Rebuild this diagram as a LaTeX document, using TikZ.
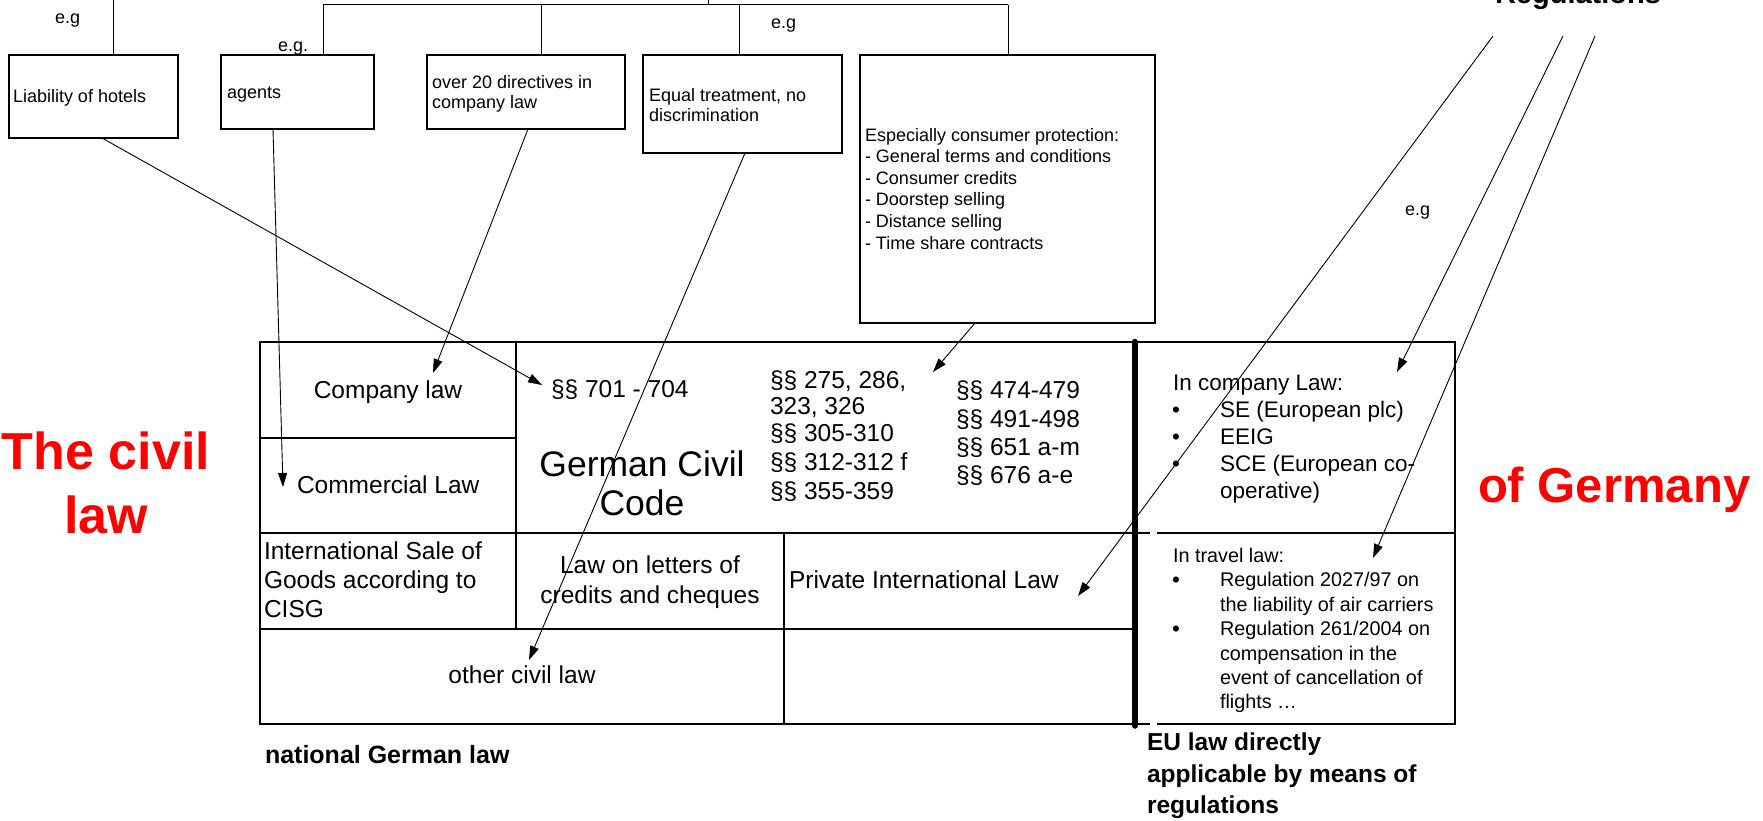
\documentclass[tikz,border=0pt]{standalone}
\usepackage{fontspec}
\setmainfont{Liberation Sans}
\usetikzlibrary{arrows.meta,calc}
\definecolor{redtxt}{RGB}{255,0,0}
\newcommand\ftop{\fontsize{18}{21.6}\selectfont}
\newcommand\ftab{\fontsize{24.5}{29}\selectfont}
\newcommand\fgcc{\fontsize{35.5}{39}\selectfont}
\newcommand\feua{\fontsize{22.5}{27}\selectfont}
\newcommand\feub{\fontsize{19.8}{24.5}\selectfont}
\newcommand\fred{\fontsize{52}{64}\selectfont\bfseries}
\begin{document}
\begin{tikzpicture}[x=1pt,y=-1pt,
  box/.style={draw, line width=1.2pt, inner sep=0pt, outer sep=0pt, anchor=north west},
  cell/.style={draw, line width=2.2pt, inner sep=0pt, outer sep=0pt, anchor=north west},
  ghost/.style={inner sep=0pt, outer sep=0pt, anchor=north west},
  tw/.style={inner sep=0pt, outer sep=0pt, anchor=base west},
  tc/.style={inner sep=0pt, outer sep=0pt, anchor=base},
  conn/.style={line width=1pt},
  arr/.style={line width=0.9pt, -{Triangle[length=14pt,width=9pt]}},
  tline/.style={line width=2.2pt},
]
\useasboundingbox (0,0) rectangle (1763,820);

% ---------- top boxes ----------
\node[box, minimum width=169pt, minimum height=83pt] (liab) at (9,55) {};
\node[box, minimum width=153pt, minimum height=74pt] (agents) at (221,55) {};
\node[box, minimum width=198pt, minimum height=74pt] (dirs) at (427,55) {};
\node[box, minimum width=199pt, minimum height=98pt] (equal) at (643,55) {};
\node[box, minimum width=295pt, minimum height=268pt] (cons) at (860,55) {};

\node[tw] (liabT) at (13,102) {\ftop Liability of hotels};
\node[tw] (agentsT) at (227,98) {\ftop agents};
\node[tw] (dirsA) at (432,88) {\ftop over 20 directives in};
\node[tw] (dirsB) at (432,108) {\ftop company law};
\node[tw] (equalA) at (649,101) {\ftop Equal treatment, no};
\node[tw] (equalB) at (649,121) {\ftop discrimination};
\node[tw] (consA) at (865,141) {\ftop Especially consumer protection:};
\node[tw] (consB) at (865,162.6) {\ftop - General terms and conditions};
\node[tw] (consC) at (865,184.2) {\ftop - Consumer credits};
\node[tw] (consD) at (865,205.8) {\ftop - Doorstep selling};
\node[tw] (consE) at (865,227.4) {\ftop - Distance selling};
\node[tw] (consF) at (865,249) {\ftop - Time share contracts};

\node[tw] (eg1) at (55,23) {\ftop e.g};
\node[tw] (eg2) at (278,51) {\ftop e.g.};
\node[tw] (eg3) at (771,28) {\ftop e.g};
\node[tw] (eg4) at (1405,215) {\ftop e.g};

% ---------- tree lines ----------
\coordinate (lt) at (113,0);
\coordinate (top) at (708,0);
\coordinate (hl) at (323,4.5);
\coordinate (j2) at (541,4.5);
\coordinate (j3) at (739,4.5);
\coordinate (hr) at (1008,4.5);
\draw[conn] (lt) -- (lt |- liab.north);
\draw[conn] (hl) -- (hr);
\draw[conn] (top) -- (top |- hl);
\draw[conn] (hl) -- (hl |- agents.north);
\draw[conn] (j2) -- (j2 |- dirs.north);
\draw[conn] (j3) -- (j3 |- equal.north);
\draw[conn] (hr) -- (hr |- cons.north);

% ---------- table ----------
\node[cell, minimum width=256pt, minimum height=96pt] (company) at (260,342) {};
\node[cell, minimum width=256pt, minimum height=95pt] (commercial) at (260,438) {};
\node[cell, minimum width=619pt, minimum height=191pt] (bgb) at (516,342) {};
\node[cell, minimum width=256pt, minimum height=96pt] (cisg) at (260,533) {};
\node[cell, minimum width=268pt, minimum height=96pt] (letters) at (516,533) {};
\node[cell, minimum width=351pt, minimum height=96pt] (pil) at (784,533) {};
\node[cell, minimum width=524pt, minimum height=95pt] (other) at (260,629) {};
\node[cell, minimum width=351pt, minimum height=95pt] (empty) at (784,629) {};
\node[ghost, minimum width=320pt, minimum height=191pt] (eutop) at (1135,342) {};
\node[ghost, minimum width=320pt, minimum height=191pt] (eubot) at (1135,533) {};

\draw[tline] (eutop.north west) -- (eutop.north east) -- (eutop.south east) -- ([xshift=22pt]eutop.south west);
\draw[tline] (eutop.south west) -- ([xshift=15pt]eutop.south west);
\draw[tline] (eubot.north east) -- (eubot.south east) -- ([xshift=22pt]eubot.south west);
\draw[tline] (eubot.south west) -- ([xshift=15pt]eubot.south west);
\draw[line width=6.5pt, line cap=round] (eutop.north west) -- ([yshift=-1.5pt]eubot.south west);

% table texts
\node[tc] (companyT) at (388,398) {\ftab Company law};
\node[tw] (commercialT) at (297,493) {\ftab Commercial Law};
\node[tw] (p701) at (551,397) {\ftab §§ 701 - 704};
\node[tc] (gccA) at (642,476) {\fgcc German Civil};
\node[tc] (gccB) at (642,515) {\fgcc Code};
\node[tw] (c2a) at (770,388) {\ftab §§ 275, 286,};
\node[tw] (c2b) at (770,414) {\ftab 323, 326};
\node[tw] (c2c) at (770,441) {\ftab §§ 305-310};
\node[tw] (c2d) at (770,470) {\ftab §§ 312-312 f};
\node[tw] (c2e) at (770,499) {\ftab §§ 355-359};
\node[tw] (c3a) at (956,398) {\ftab §§ 474-479};
\node[tw] (c3b) at (956,427) {\ftab §§ 491-498};
\node[tw] (c3c) at (956,455) {\ftab §§ 651 a-m};
\node[tw] (c3d) at (956,483) {\ftab §§ 676 a-e};
\node[tw] (cisgA) at (264,559) {\ftab International Sale of};
\node[tw] (cisgB) at (264,588) {\ftab Goods according to};
\node[tw] (cisgC) at (264,617) {\ftab CISG};
\node[tc] (lettersA) at (650,573) {\ftab Law on letters of};
\node[tc] (lettersB) at (650,603) {\ftab credits and cheques};
\node[tw] (pilT) at (789,588) {\ftab Private International Law};
\node[tc] (otherT) at (522,683) {\ftab other civil law};
\node[tw] (natT) at (265,763) {\fontsize{25}{30}\selectfont\bfseries national German law};

% EU texts
\node[tw] (euA) at (1173,390) {\feua In company Law:};
\node[tc] (bA1) at (1176,417) {\feua •};
\node[tw] (euA1) at (1220,417) {\feua SE (European plc)};
\node[tc] (bA2) at (1176,444) {\feua •};
\node[tw] (euA2) at (1220,444) {\feua EEIG};
\node[tc] (bA3) at (1176,471) {\feua •};
\node[tw] (euA3) at (1220,471) {\feua SCE (European co-};
\node[tw] (euA4) at (1220,498) {\feua operative)};
\node[tw] (euB) at (1173,562) {\feub In travel law:};
\node[tc] (bB1) at (1176,587) {\feua •};
\node[tw] (euB1) at (1220,586) {\feub Regulation 2027/97 on};
\node[tw] (euB2) at (1220,611) {\feub the liability of air carriers};
\node[tc] (bB2) at (1176,636) {\feua •};
\node[tw] (euB3) at (1220,635) {\feub Regulation 261/2004 on};
\node[tw] (euB4) at (1220,660) {\feub compensation in the};
\node[tw] (euB5) at (1220,684) {\feub event of cancellation of};
\node[tw] (euB6) at (1220,708) {\feub flights …};
\node[tw] (euL1) at (1147,750) {\fontsize{24.5}{30}\selectfont\bfseries EU law directly};
\node[tw] (euL2) at (1147,782) {\fontsize{24.5}{30}\selectfont\bfseries applicable by means of};
\node[tw] (euL3) at (1147,813) {\fontsize{24.5}{30}\selectfont\bfseries regulations};

% red and heading texts
\node[tc, text=redtxt] (civA) at (106,469) {\fred The civil};
\node[tc, text=redtxt] (civB) at (106,533) {\fred law};
\node[tw, text=redtxt] (germ) at (1478,502) {\fontsize{49}{58}\selectfont\bfseries of Germany};
\node[tw] (regs) at (1495,3) {\fontsize{29}{34}\selectfont\bfseries Regulations};

% ---------- connectors ----------
\coordinate (t1) at (542,385);
\coordinate (t2) at (283,487);
\coordinate (t3) at (433,373);
\coordinate (t4) at (529,660);
\coordinate (t5) at (933,372);
\coordinate (t6) at (1078,596);
\coordinate (t7) at (1397,372);
\coordinate (t8) at (1373,558);
\coordinate (r1) at (1493,36);
\coordinate (r2) at (1563,36);
\coordinate (r3) at (1595,36);
\draw[arr] ([xshift=93pt]liab.south west) -- (t1);
\draw[arr] ([xshift=52pt]agents.south west) -- (t2);
\draw[arr] ([xshift=101pt]dirs.south west) -- (t3);
\draw[arr] ([xshift=102pt]equal.south west) -- (t4);
\draw[arr] ([xshift=115pt]cons.south west) -- (t5);
\draw[arr] (r1) -- (t6);
\draw[arr] (r2) -- (t7);
\draw[arr] (r3) -- (t8);
\end{tikzpicture}
\end{document}
